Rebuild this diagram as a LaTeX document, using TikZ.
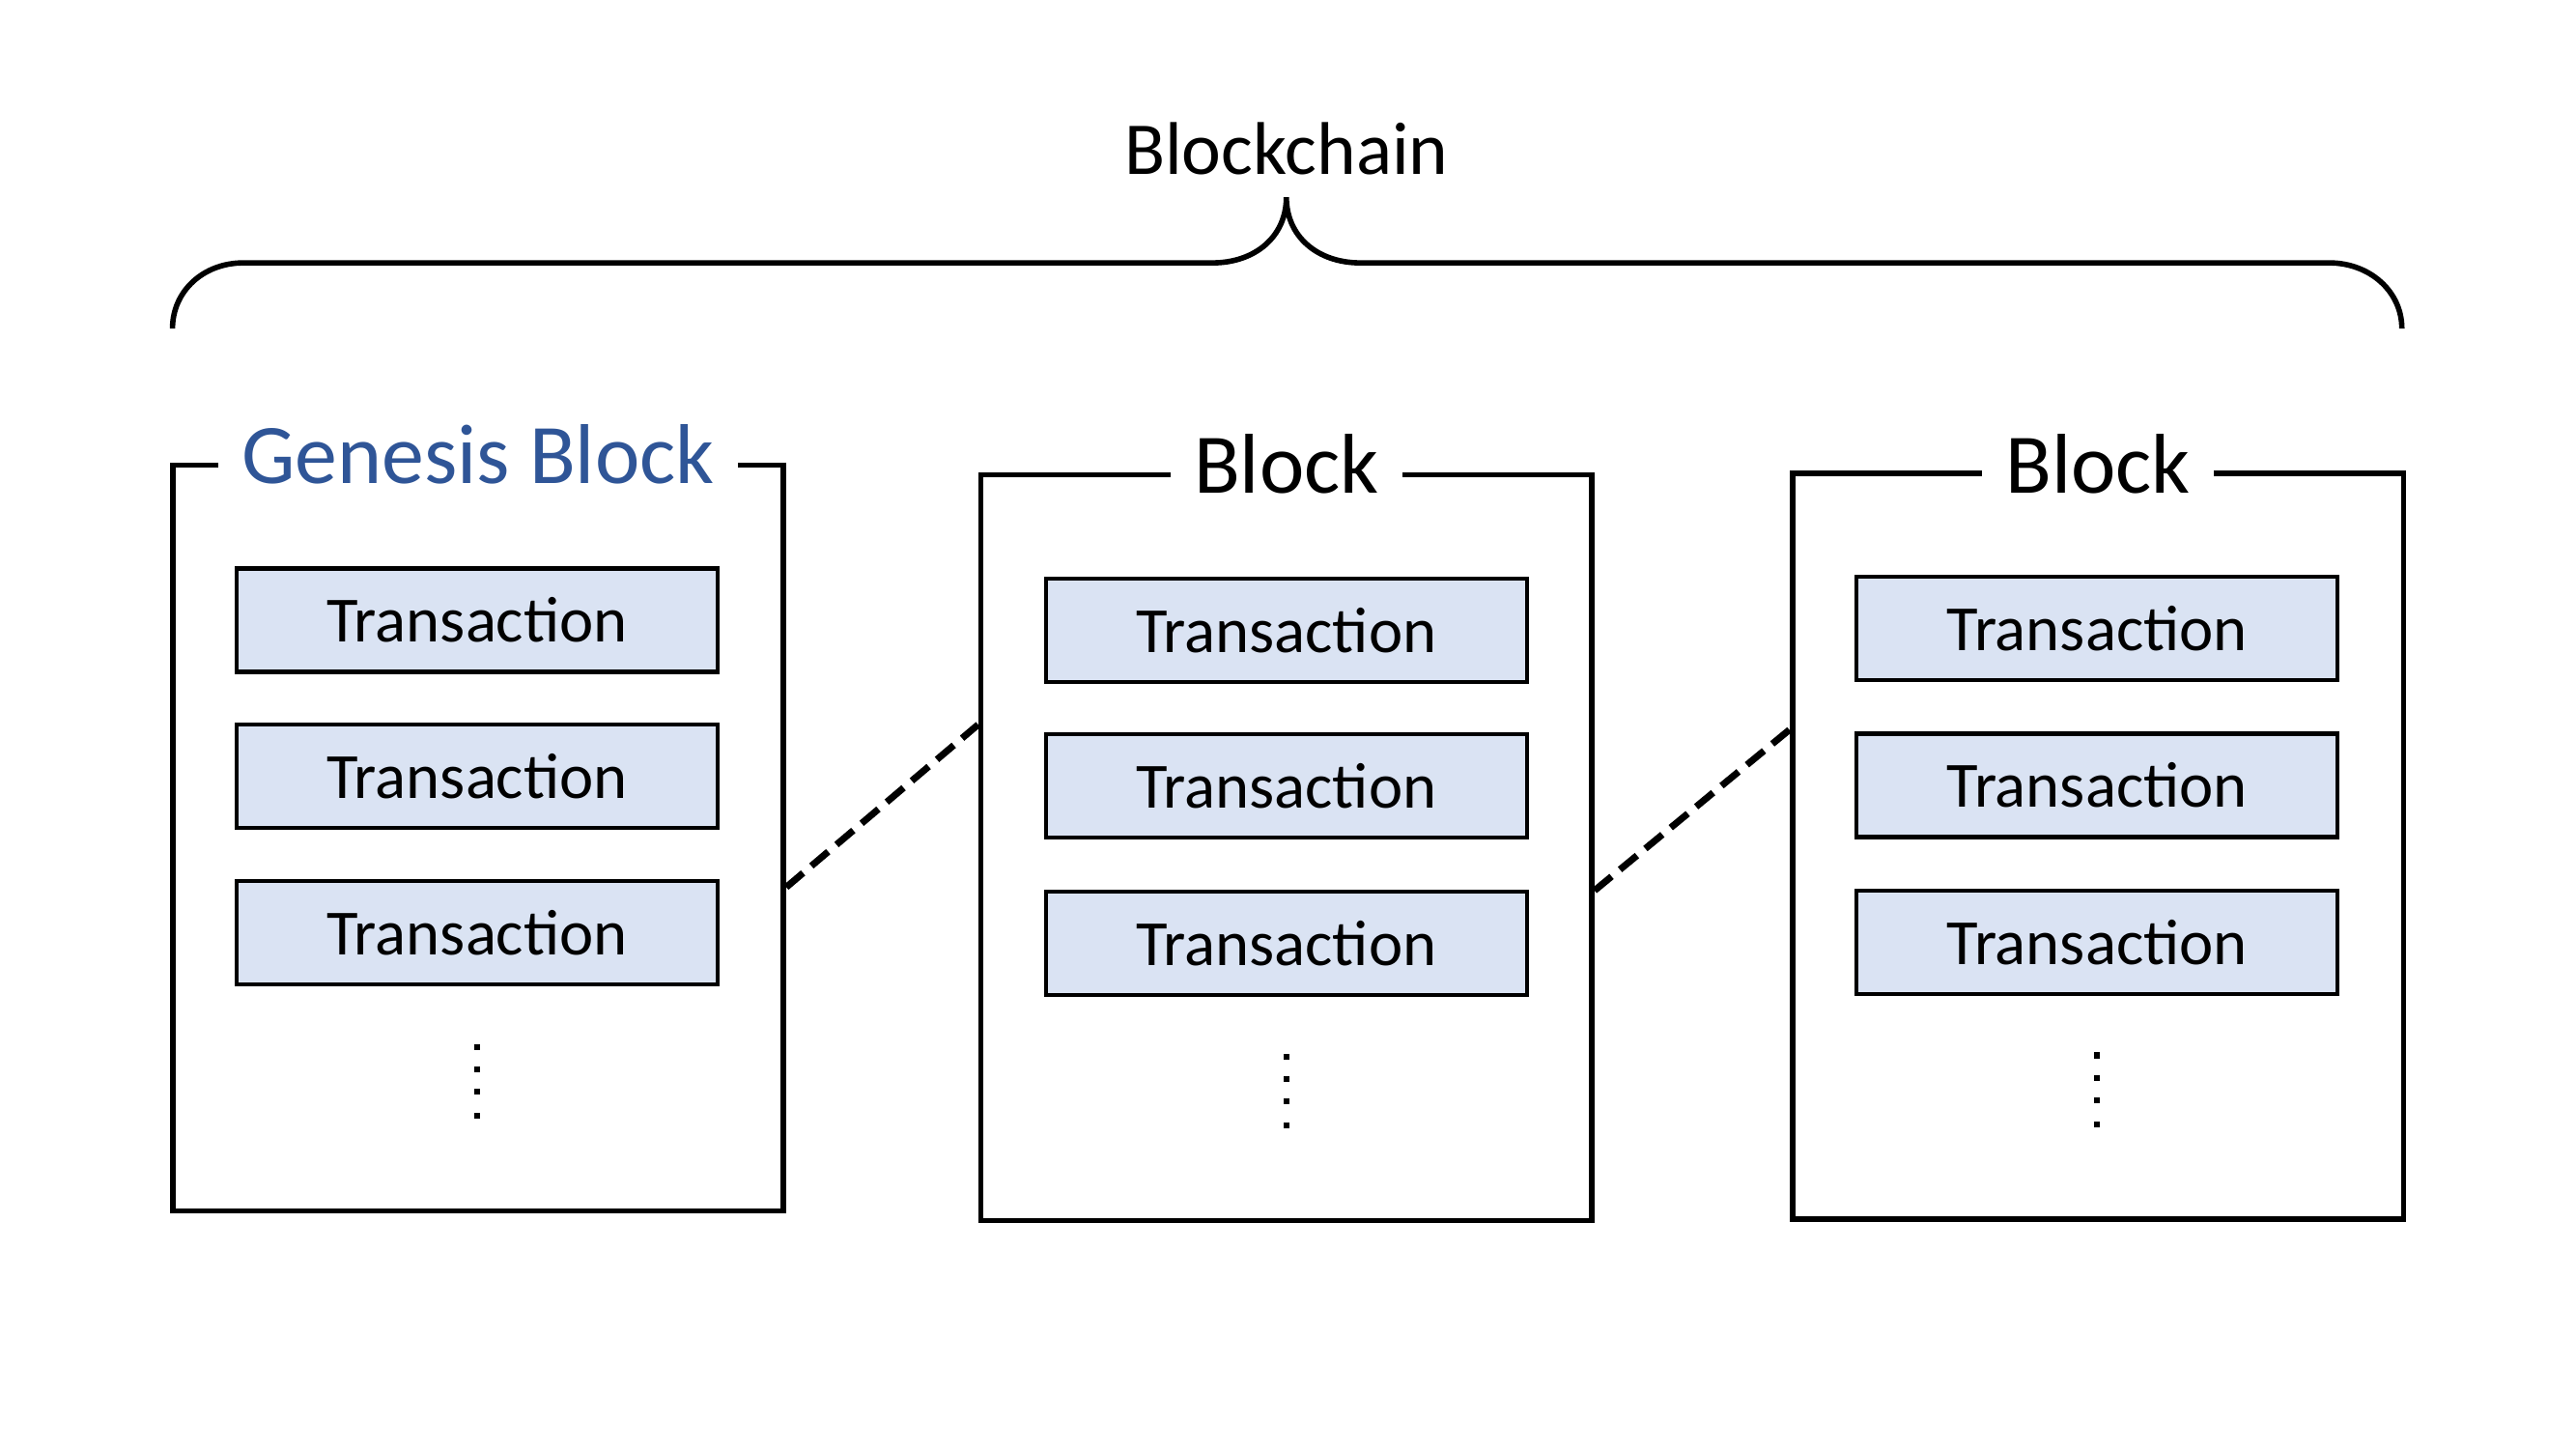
\documentclass[tikz,border=0pt]{standalone}
\usepackage{fontspec}
\setmainfont{Carlito}
\usetikzlibrary{calc}
\definecolor{txfill}{HTML}{DAE3F3}
\definecolor{genblue}{HTML}{2F5597}
\begin{document}
\begin{tikzpicture}[x=0.017009cm,y=-0.017009cm,
  blockbox/.style={draw, line width=1.6pt, minimum width=6.327cm, minimum height=7.722cm, inner sep=0pt},
  blocktitle/.style={fill=white, inner xsep=7pt, inner ysep=2pt, font=\fontsize{25}{30}\selectfont, anchor=base},
  txbox/.style={draw, line width=1.2pt, fill=txfill, minimum width=4.98cm, minimum height=1.07cm, inner sep=0pt, font=\fontsize{19}{23}\selectfont},
  link/.style={line width=2pt, dash pattern=on 6.5pt off 3.2pt},
  brace/.style={line width=1.6pt},
  chainlabel/.style={font=\fontsize{22}{26}\selectfont, anchor=base}]
\useasboundingbox (0,0) rectangle (1568,882);

% the three blocks
\node[blockbox] (g)  at (291,510) {};
\node[blockbox] (b2) at (783,516) {};
\node[blockbox] (b3) at (1277,515) {};

% titles sitting on the top edges
\node[blocktitle, text=genblue] (gt) at (291,294) {Genesis Block};
\node[blocktitle] (b2t) at (783,300) {Block};
\node[blocktitle] (b3t) at (1277,300) {Block};

% transactions inside each block
\foreach \n/\y in {1/377.5,2/472.5,3/567.5}
  \node[txbox] (g-t\n) at (290.5,\y) {Transaction};
\foreach \n/\y in {1/383.5,2/478.5,3/574}
  \node[txbox] (b2-t\n) at (783,\y) {Transaction};
\foreach \n/\y in {1/382.5,2/478,3/573.5}
  \node[txbox] (b3-t\n) at (1276.5,\y) {Transaction};

% vertical ellipses below the transactions
\foreach \cx/\cy in {290.5/637.3, 783/643.3, 1276.5/642.3}
  \foreach \dy in {0,13.6,27.1,41.8}
    \fill (\cx-1.8,\cy+\dy-1.8) rectangle ++(3.6,3.6);

% links between consecutive blocks
\draw[link] ([yshift=-0.51cm]g.east) -- ([yshift=1.276cm]b2.west);
\draw[link] ([yshift=-0.442cm]b2.east) -- ([yshift=1.208cm]b3.west);

% brace over the chain
\draw[brace] (105,200) .. controls (105,177) and (124,160) .. (148,160) -- (738,160)
  .. controls (764,160) and (783,144) .. (783,120)
  .. controls (783,144) and (802,160) .. (828,160) -- (1418,160)
  .. controls (1442,160) and (1462,177) .. (1462,200);
\node[chainlabel] (chain) at (783,106) {Blockchain};
\end{tikzpicture}
\end{document}
